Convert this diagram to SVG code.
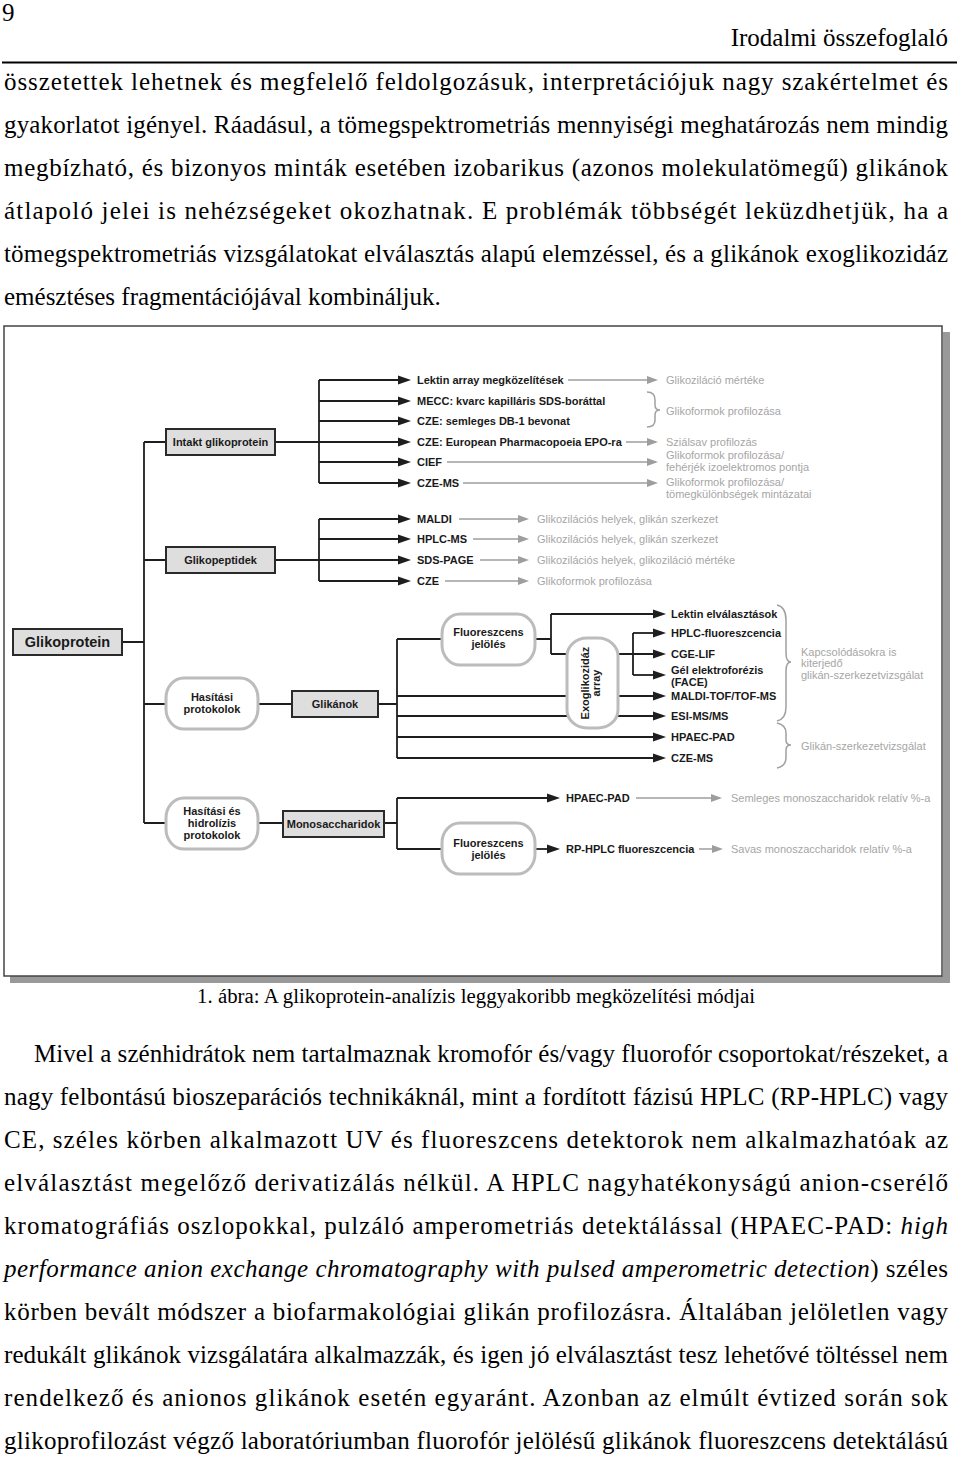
<svg xmlns="http://www.w3.org/2000/svg" width="960" height="1460" viewBox="0 0 960 1460">
<defs>
<style>
.body{font-family:"Liberation Serif","Times New Roman",serif;font-size:25px;fill:#000}
.cap{font-family:"Liberation Serif","Times New Roman",serif;font-size:20.8px;fill:#000}
.lbl{font-family:"Liberation Sans",Arial,sans-serif;font-weight:bold;font-size:11px;fill:#1a1a1a}
.big{font-family:"Liberation Sans",Arial,sans-serif;font-weight:bold;font-size:14.5px;fill:#1a1a1a}
.res{font-family:"Liberation Sans",Arial,sans-serif;font-size:11px;fill:#a6a6a6}
.box{fill:#dedede;stroke:#2a2a2a;stroke-width:2}
.oval{fill:#fff;stroke:#bcbcbc;stroke-width:3}
.ln{stroke:#1e1e1e;stroke-width:1.8;fill:none}
.la{stroke:#1e1e1e;stroke-width:1.8;fill:none;marker-end:url(#ah)}
.ga{stroke:#9e9e9e;stroke-width:1.5;fill:none;marker-end:url(#gh)}
.br{stroke:#a0a0a0;stroke-width:1.5;fill:none}
</style>
<marker id="ah" markerUnits="userSpaceOnUse" markerWidth="13" markerHeight="10" viewBox="0 0 13 10" refX="9" refY="5" orient="auto"><path d="M0,0.5 L13,5 L0,9.5 z" fill="#1e1e1e"/></marker>
<marker id="gh" markerUnits="userSpaceOnUse" markerWidth="11" markerHeight="9" viewBox="0 0 11 9" refX="8" refY="4.5" orient="auto"><path d="M0,0.5 L11,4.5 L0,8.5 z" fill="#9e9e9e"/></marker>
</defs>
<rect x="0" y="0" width="960" height="1460" fill="#fff"/>

<!-- page header and text -->
<text class="body" x="2" y="21">9</text>
<text class="body" x="948" y="46" text-anchor="end">Irodalmi összefoglaló</text>
<line x1="2" y1="62.5" x2="957" y2="62.5" stroke="#000" stroke-width="2"/>

<text class="body" x="4" y="90" textLength="944" lengthAdjust="spacing">összetettek lehetnek és megfelelő feldolgozásuk, interpretációjuk nagy szakértelmet és</text>
<text class="body" x="4" y="133" textLength="944" lengthAdjust="spacing">gyakorlatot igényel. Ráadásul, a tömegspektrometriás mennyiségi meghatározás nem mindig</text>
<text class="body" x="4" y="176" textLength="944" lengthAdjust="spacing">megbízható, és bizonyos minták esetében izobarikus (azonos molekulatömegű) glikánok</text>
<text class="body" x="4" y="219" textLength="944" lengthAdjust="spacing">átlapoló jelei is nehézségeket okozhatnak. E problémák többségét leküzdhetjük, ha a</text>
<text class="body" x="4" y="262" textLength="944" lengthAdjust="spacing">tömegspektrometriás vizsgálatokat elválasztás alapú elemzéssel, és a glikánok exoglikozidáz</text>
<text class="body" x="4" y="305">emésztéses fragmentációjával kombináljuk.</text>

<!-- figure frame -->
<rect x="943" y="332" width="7" height="651" fill="#999"/>
<rect x="10" y="976" width="940" height="7" fill="#999"/>
<rect x="4" y="326" width="938" height="650" fill="#fff" stroke="#444" stroke-width="1.5"/>

<!-- connectors -->
<g id="connectors">
<path class="ln" d="M144,442 V823 M122,642 H144 M144,442 H166 M144,560 H166 M144,704 H166 M144,823 H166"/>
<path class="ln" d="M275,442 H319 M319,380 V483 M275,560 H319 M319,519 V581"/>
<path class="la" d="M319,380 H407"/>
<path class="la" d="M319,401 H407"/>
<path class="la" d="M319,421 H407"/>
<path class="la" d="M319,442 H407"/>
<path class="la" d="M319,462 H407"/>
<path class="la" d="M319,483 H407"/>
<path class="la" d="M319,519 H407"/>
<path class="la" d="M319,539 H407"/>
<path class="la" d="M319,560 H407"/>
<path class="la" d="M319,581 H407"/>
<path class="ln" d="M258,704 H292 M378,704 H397 M397,639 V758 M397,639 H442 M535,639 H551 M551,614 V654 M633,633 V675"/>
<path class="la" d="M551,614 H662"/>
<path class="la" d="M633,633 H662"/>
<path class="la" d="M551,654 H662"/>
<path class="la" d="M633,675 H662"/>
<path class="la" d="M397,696 H662"/>
<path class="la" d="M397,716 H662"/>
<path class="la" d="M397,737 H662"/>
<path class="la" d="M397,758 H662"/>
<path class="ln" d="M258,823 H283 M384,823 H397 M397,798 V849 M397,849 H442"/>
<path class="la" d="M397,798 H556"/>
<path class="la" d="M535,849 H556"/>
<path class="ga" d="M568,380 H655"/>
<path class="ga" d="M626,442 H655"/>
<path class="ga" d="M447,462 H655"/>
<path class="ga" d="M463,483 H655"/>
<path class="ga" d="M459,519 H526"/>
<path class="ga" d="M473,539 H526"/>
<path class="ga" d="M480,560 H526"/>
<path class="ga" d="M445,581 H526"/>
<path class="ga" d="M636,798 H719"/>
<path class="ga" d="M699,849 H720"/>
<path class="br" d="M647,392 Q655,392 655,400 L655,405 Q655,410 660,410 Q655,410 655,415 L655,420 Q655,427 647,427"/>
<path class="br" d="M777,605 Q786,607 786,620 L786,653 Q786,662 791,662 Q786,662 786,671 L786,707 Q786,719 777,721"/>
<path class="br" d="M777,723 Q786,725 786,733 L786,740 Q786,745 791,745 Q786,745 786,750 L786,758 Q786,766 777,768"/>
</g>

<!-- nodes -->
<g id="n-glikoprotein"><rect class="box" x="13" y="629" width="109" height="26"/><text class="big" x="67.5" y="647" text-anchor="middle">Glikoprotein</text></g>
<g id="n-intakt"><rect class="box" x="166" y="429" width="109" height="26"/><text class="lbl" x="220.5" y="446" text-anchor="middle">Intakt glikoprotein</text></g>
<g id="n-glikopeptidek"><rect class="box" x="166" y="547" width="109" height="26"/><text class="lbl" x="220.5" y="564" text-anchor="middle">Glikopeptidek</text></g>
<g id="n-hasitasi"><rect class="oval" x="166" y="678" width="92" height="51" rx="18" ry="20"/><text class="lbl" x="212" y="701" text-anchor="middle">Hasítási</text><text class="lbl" x="212" y="713" text-anchor="middle">protokolok</text></g>
<g id="n-glikanok"><rect class="box" x="292" y="691" width="86" height="26"/><text class="lbl" x="335" y="708" text-anchor="middle">Glikánok</text></g>
<g id="n-hasitasi-es"><rect class="oval" x="166" y="798" width="92" height="51" rx="18" ry="20"/><text class="lbl" x="212" y="815" text-anchor="middle">Hasítási és</text><text class="lbl" x="212" y="827" text-anchor="middle">hidrolízis</text><text class="lbl" x="212" y="839" text-anchor="middle">protokolok</text></g>
<g id="n-monosaccharidok"><rect class="box" x="283" y="811" width="101" height="26"/><text class="lbl" x="333.5" y="828" text-anchor="middle">Monosaccharidok</text></g>
<g id="n-fluor1"><rect class="oval" x="442" y="614" width="93" height="51" rx="18" ry="20"/><text class="lbl" x="488.5" y="636" text-anchor="middle">Fluoreszcens</text><text class="lbl" x="488.5" y="648" text-anchor="middle">jelölés</text></g>
<g id="n-fluor2"><rect class="oval" x="442" y="823" width="93" height="51" rx="18" ry="20"/><text class="lbl" x="488.5" y="847" text-anchor="middle">Fluoreszcens</text><text class="lbl" x="488.5" y="859" text-anchor="middle">jelölés</text></g>
<g id="n-exo"><rect class="oval" x="567" y="638" width="51" height="90" rx="20" ry="18"/><text class="lbl" transform="translate(589,683) rotate(-90)" text-anchor="middle">Exoglikozidáz</text><text class="lbl" transform="translate(600,683) rotate(-90)" text-anchor="middle">array</text></g>

<g id="n-intakt-methods">
<text class="lbl" x="417" y="384">Lektin array megközelítések</text>
<text class="lbl" x="417" y="405">MECC: kvarc kapilláris SDS-boráttal</text>
<text class="lbl" x="417" y="425">CZE: semleges DB-1 bevonat</text>
<text class="lbl" x="417" y="446">CZE: European Pharmacopoeia EPO-ra</text>
<text class="lbl" x="417" y="466">CIEF</text>
<text class="lbl" x="417" y="487">CZE-MS</text>
</g>
<g id="n-intakt-results">
<text class="res" x="666" y="384">Glikoziláció mértéke</text>
<text class="res" x="666" y="415">Glikoformok profilozása</text>
<text class="res" x="666" y="446">Sziálsav profilozás</text>
<text class="res" x="666" y="459">Glikoformok profilozása/</text>
<text class="res" x="666" y="471">fehérjék izoelektromos pontja</text>
<text class="res" x="666" y="486">Glikoformok profilozása/</text>
<text class="res" x="666" y="498">tömegkülönbségek mintázatai</text>
</g>
<g id="n-peptid-methods">
<text class="lbl" x="417" y="523">MALDI</text>
<text class="lbl" x="417" y="543">HPLC-MS</text>
<text class="lbl" x="417" y="564">SDS-PAGE</text>
<text class="lbl" x="417" y="585">CZE</text>
</g>
<g id="n-peptid-results">
<text class="res" x="537" y="523">Glikozilációs helyek, glikán szerkezet</text>
<text class="res" x="537" y="543">Glikozilációs helyek, glikán szerkezet</text>
<text class="res" x="537" y="564">Glikozilációs helyek, glikoziláció mértéke</text>
<text class="res" x="537" y="585">Glikoformok profilozása</text>
</g>
<g id="n-glikan-methods">
<text class="lbl" x="671" y="618">Lektin elválasztások</text>
<text class="lbl" x="671" y="637">HPLC-fluoreszcencia</text>
<text class="lbl" x="671" y="658">CGE-LIF</text>
<text class="lbl" x="671" y="674">Gél elektroforézis</text>
<text class="lbl" x="671" y="686">(FACE)</text>
<text class="lbl" x="671" y="700">MALDI-TOF/TOF-MS</text>
<text class="lbl" x="671" y="720">ESI-MS/MS</text>
<text class="lbl" x="671" y="741">HPAEC-PAD</text>
<text class="lbl" x="671" y="762">CZE-MS</text>
</g>
<g id="n-glikan-results">
<text class="res" x="801" y="656">Kapcsolódásokra is</text>
<text class="res" x="801" y="667">kiterjedő</text>
<text class="res" x="801" y="679">glikán-szerkezetvizsgálat</text>
<text class="res" x="801" y="750">Glikán-szerkezetvizsgálat</text>
</g>
<g id="n-mono-methods">
<text class="lbl" x="566" y="802">HPAEC-PAD</text>
<text class="lbl" x="566" y="853">RP-HPLC fluoreszcencia</text>
<text class="res" x="731" y="802">Semleges monoszaccharidok relatív %-a</text>
<text class="res" x="731" y="853">Savas monoszaccharidok relatív %-a</text>
</g>

<!-- caption and body -->
<text class="cap" x="197" y="1003" textLength="558" lengthAdjust="spacing">1. ábra: A glikoprotein-analízis leggyakoribb megközelítési módjai</text>

<text class="body" x="34" y="1062" textLength="914" lengthAdjust="spacing">Mivel a szénhidrátok nem tartalmaznak kromofór és/vagy fluorofór csoportokat/részeket, a</text>
<text class="body" x="4" y="1105" textLength="944" lengthAdjust="spacing">nagy felbontású bioszeparációs technikáknál, mint a fordított fázisú HPLC (RP-HPLC) vagy</text>
<text class="body" x="4" y="1148" textLength="944" lengthAdjust="spacing">CE, széles körben alkalmazott UV és fluoreszcens detektorok nem alkalmazhatóak az</text>
<text class="body" x="4" y="1191" textLength="944" lengthAdjust="spacing">elválasztást megelőző derivatizálás nélkül. A HPLC nagyhatékonyságú anion-cserélő</text>
<text class="body" x="4" y="1234" textLength="944" lengthAdjust="spacing">kromatográfiás oszlopokkal, pulzáló amperometriás detektálással (HPAEC-PAD: <tspan font-style="italic">high</tspan></text>
<text class="body" x="4" y="1277" textLength="944" lengthAdjust="spacing"><tspan font-style="italic">performance anion exchange chromatography with pulsed amperometric detection</tspan>) széles</text>
<text class="body" x="4" y="1320" textLength="944" lengthAdjust="spacing">körben bevált módszer a biofarmakológiai glikán profilozásra. Általában jelöletlen vagy</text>
<text class="body" x="4" y="1363" textLength="944" lengthAdjust="spacing">redukált glikánok vizsgálatára alkalmazzák, és igen jó elválasztást tesz lehetővé töltéssel nem</text>
<text class="body" x="4" y="1406" textLength="944" lengthAdjust="spacing">rendelkező és anionos glikánok esetén egyaránt. Azonban az elmúlt évtized során sok</text>
<text class="body" x="4" y="1449" textLength="944" lengthAdjust="spacing">glikoprofilozást végző laboratóriumban fluorofór jelölésű glikánok fluoreszcens detektálású</text>
</svg>
